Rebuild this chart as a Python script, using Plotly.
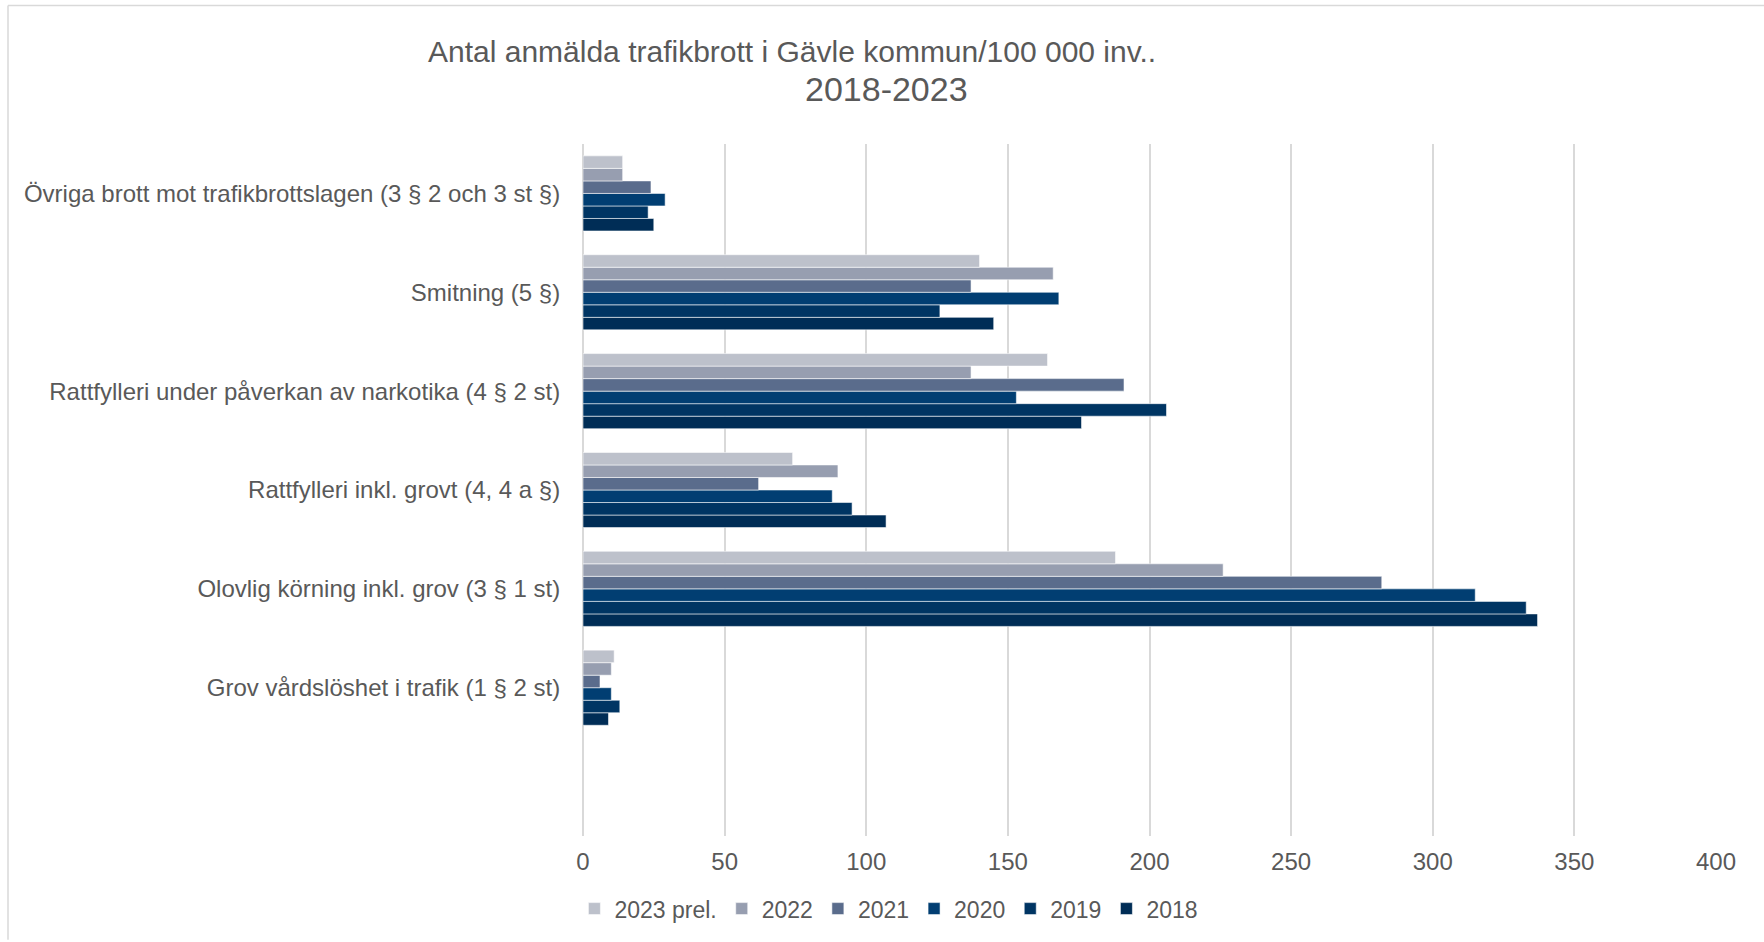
import plotly.graph_objects as go

# Kategorier, nedifrån och upp (översta i diagrammet sist); tom rad längst ned
KATEGORIER = [
    " ",
    "Grov vårdslöshet i trafik (1 § 2 st)",
    "Olovlig körning inkl. grov (3 § 1 st)",
    "Rattfylleri inkl. grovt (4, 4 a §)",
    "Rattfylleri under påverkan av narkotika (4 § 2 st)",
    "Smitning (5 §)",
    "Övriga brott mot trafikbrottslagen (3 § 2 och 3 st §)",
]
DATA_KAT = KATEGORIER[1:]

AR = ["2018", "2019", "2020", "2021", "2022", "2023 prel."]
FARGER = ["#002D56", "#003563", "#013E72", "#5A6C8C", "#979EB0", "#BDC1CB"]

# Värden per år, i samma ordning som DATA_KAT
V_2018 = [9, 337, 107, 176, 145, 25]
V_2019 = [13, 333, 95, 206, 126, 23]
V_2020 = [10, 315, 88, 153, 168, 29]
V_2021 = [6, 282, 62, 191, 137, 24]
V_2022 = [10, 226, 90, 137, 166, 14]
V_2023 = [11, 188, 74, 164, 140, 14]
VARDEN = [V_2018, V_2019, V_2020, V_2021, V_2022, V_2023]

TEXT = "#595959"
GRID = "#D9D9D9"
FONT = "Liberation Sans, Arial, sans-serif"

fig = go.Figure()
for ar, farg, v in zip(AR, FARGER, VARDEN):
    fig.add_trace(go.Bar(
        x=v,
        y=DATA_KAT,
        name=ar,
        orientation="h",
        marker=dict(color=farg, line=dict(color="rgba(255,255,255,0.55)", width=1)),
    ))

fig.update_layout(
    width=1764,
    height=942,
    barmode="group",
    bargap=0.24,
    bargroupgap=0,
    paper_bgcolor="white",
    plot_bgcolor="white",
    font=dict(family=FONT, color=TEXT, size=24),
    margin=dict(l=583, r=48, t=144, b=104),
    legend=dict(
        orientation="h",
        traceorder="reversed",
        x=0.27, xanchor="center",
        y=-0.105, yanchor="middle",
        font=dict(size=23, color=TEXT),
        itemwidth=30,
    ),
    showlegend=True,
)

fig.update_xaxes(
    range=[0, 400],
    dtick=50,
    showgrid=True,
    gridcolor=GRID,
    gridwidth=1.5,
    zeroline=True,
    zerolinecolor=GRID,
    zerolinewidth=1.5,
    ticks="outside",
    ticklen=4,
    tickcolor="rgba(0,0,0,0)",
    tickfont=dict(size=24, color=TEXT),
)
fig.update_yaxes(
    categoryorder="array",
    categoryarray=KATEGORIER,
    range=[-0.5, 6.5],
    showgrid=False,
    ticks="outside",
    ticklen=17,
    tickcolor="rgba(0,0,0,0)",
    tickfont=dict(size=24, color=TEXT),
)

# Titel i två rader
fig.add_annotation(
    text="Antal anmälda trafikbrott i Gävle kommun/100 000 inv..",
    xref="paper", yref="paper",
    x=(792 - 583) / 1133, y=(838 - 51) / 694,
    xanchor="center", yanchor="middle",
    showarrow=False,
    font=dict(size=30, color=TEXT, family=FONT),
)
fig.add_annotation(
    text="2018-2023",
    xref="paper", yref="paper",
    x=(886 - 583) / 1133, y=(838 - 89) / 694,
    xanchor="center", yanchor="middle",
    showarrow=False,
    font=dict(size=34, color=TEXT, family=FONT),
)

# Diagramramen (vänster och överkant)
fig.add_shape(
    type="line", xref="paper", yref="paper",
    x0=(8 - 583) / 1133, x1=(8 - 583) / 1133,
    y0=(838 - 5) / 694, y1=(838 - 942) / 694,
    line=dict(color=GRID, width=1.5),
)
fig.add_shape(
    type="line", xref="paper", yref="paper",
    x0=(8 - 583) / 1133, x1=(1764 - 583) / 1133,
    y0=(838 - 5) / 694, y1=(838 - 5) / 694,
    line=dict(color=GRID, width=1.5),
)

# sidans standardmarginal bort så att figuren hamnar i hörnet
fig.write_html(
    "out.html",
    config={"displayModeBar": False},
    post_script="document.body.style.margin='0';",
)
